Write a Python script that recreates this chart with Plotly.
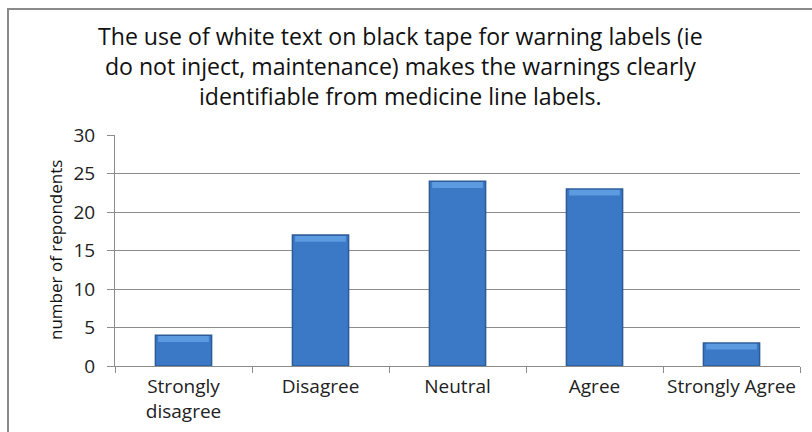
import plotly.graph_objects as go

categories = ["Strongly<br>disagree", "Disagree", "Neutral", "Agree", "Strongly Agree"]
respondents = [4, 17, 24, 23, 3]
y_ticks = [0, 5, 10, 15, 20, 25, 30]

title_text = ("The use of white text on black tape for warning labels (ie<br>"
              "do not inject, maintenance) makes the warnings clearly<br>"
              "identifiable from medicine line labels.")
y_title = "number of repondents"

L, R, T, B = 115, 12, 135, 66
W, H = 812, 432
pw, ph = W - L - R, H - T - B

def px_x(p):
    return (p - L) / pw

def px_y(p):
    return (H - B - p) / ph

bevel = 0.75
fig = go.Figure()
fig.add_trace(go.Bar(
    x=categories, y=respondents,
    marker=dict(color="#3B79C7", line=dict(color="#2C5B96", width=1.5)),
    width=0.41,
))
fig.add_trace(go.Bar(
    x=categories, y=[bevel] * len(respondents),
    base=[v - bevel - 0.12 for v in respondents],
    marker=dict(color="#5D9BE0", line=dict(width=0)),
    width=0.37, hoverinfo="skip",
))

fig.update_layout(
    width=W, height=H,
    margin=dict(l=L, r=R, t=T, b=B),
    paper_bgcolor="white", plot_bgcolor="white",
    font=dict(family="Open Sans", color="#222222"),
    showlegend=False, barmode="overlay",
    annotations=[
        dict(text=title_text, xref="paper", yref="paper",
             x=px_x(400), y=px_y(66), xanchor="center", yanchor="middle",
             showarrow=False, font=dict(size=23.1, family="Open Sans", color="#111111"),
             align="center"),
        dict(text=y_title, xref="paper", yref="paper",
             x=px_x(55), y=px_y(250), xanchor="center", yanchor="middle",
             textangle=-90, showarrow=False,
             font=dict(size=17, family="Open Sans", color="#111111")),
    ],
    shapes=[dict(
        type="rect", xref="paper", yref="paper",
        x0=px_x(8), x1=px_x(830), y0=px_y(450), y1=px_y(9),
        line=dict(color="#8a8a8a", width=2), fillcolor="rgba(0,0,0,0)", layer="below",
    )],
)

fig.update_xaxes(
    type="category", showline=True, linecolor="#8c8c8c", linewidth=1,
    ticks="outside", tickson="boundaries", ticklen=6, tickcolor="#8c8c8c",
    tickfont=dict(size=19, family="Open Sans", color="#222222"),
    tickangle=0, ticklabelstandoff=3,
    showgrid=False, automargin=False,
)
fig.update_yaxes(
    range=[0, 30], tickvals=y_ticks, showline=True, linecolor="#8c8c8c", linewidth=1,
    ticks="outside", ticklen=7, tickcolor="#8c8c8c",
    gridcolor="#8c8c8c", gridwidth=1,
    tickfont=dict(size=19, family="Open Sans", color="#222222"),
    ticklabelstandoff=8,
    zeroline=False, automargin=False,
)

fig.write_html("out.html", config={"displayModeBar": False},
               post_script="document.body.style.margin='0';document.body.style.overflow='hidden';")
